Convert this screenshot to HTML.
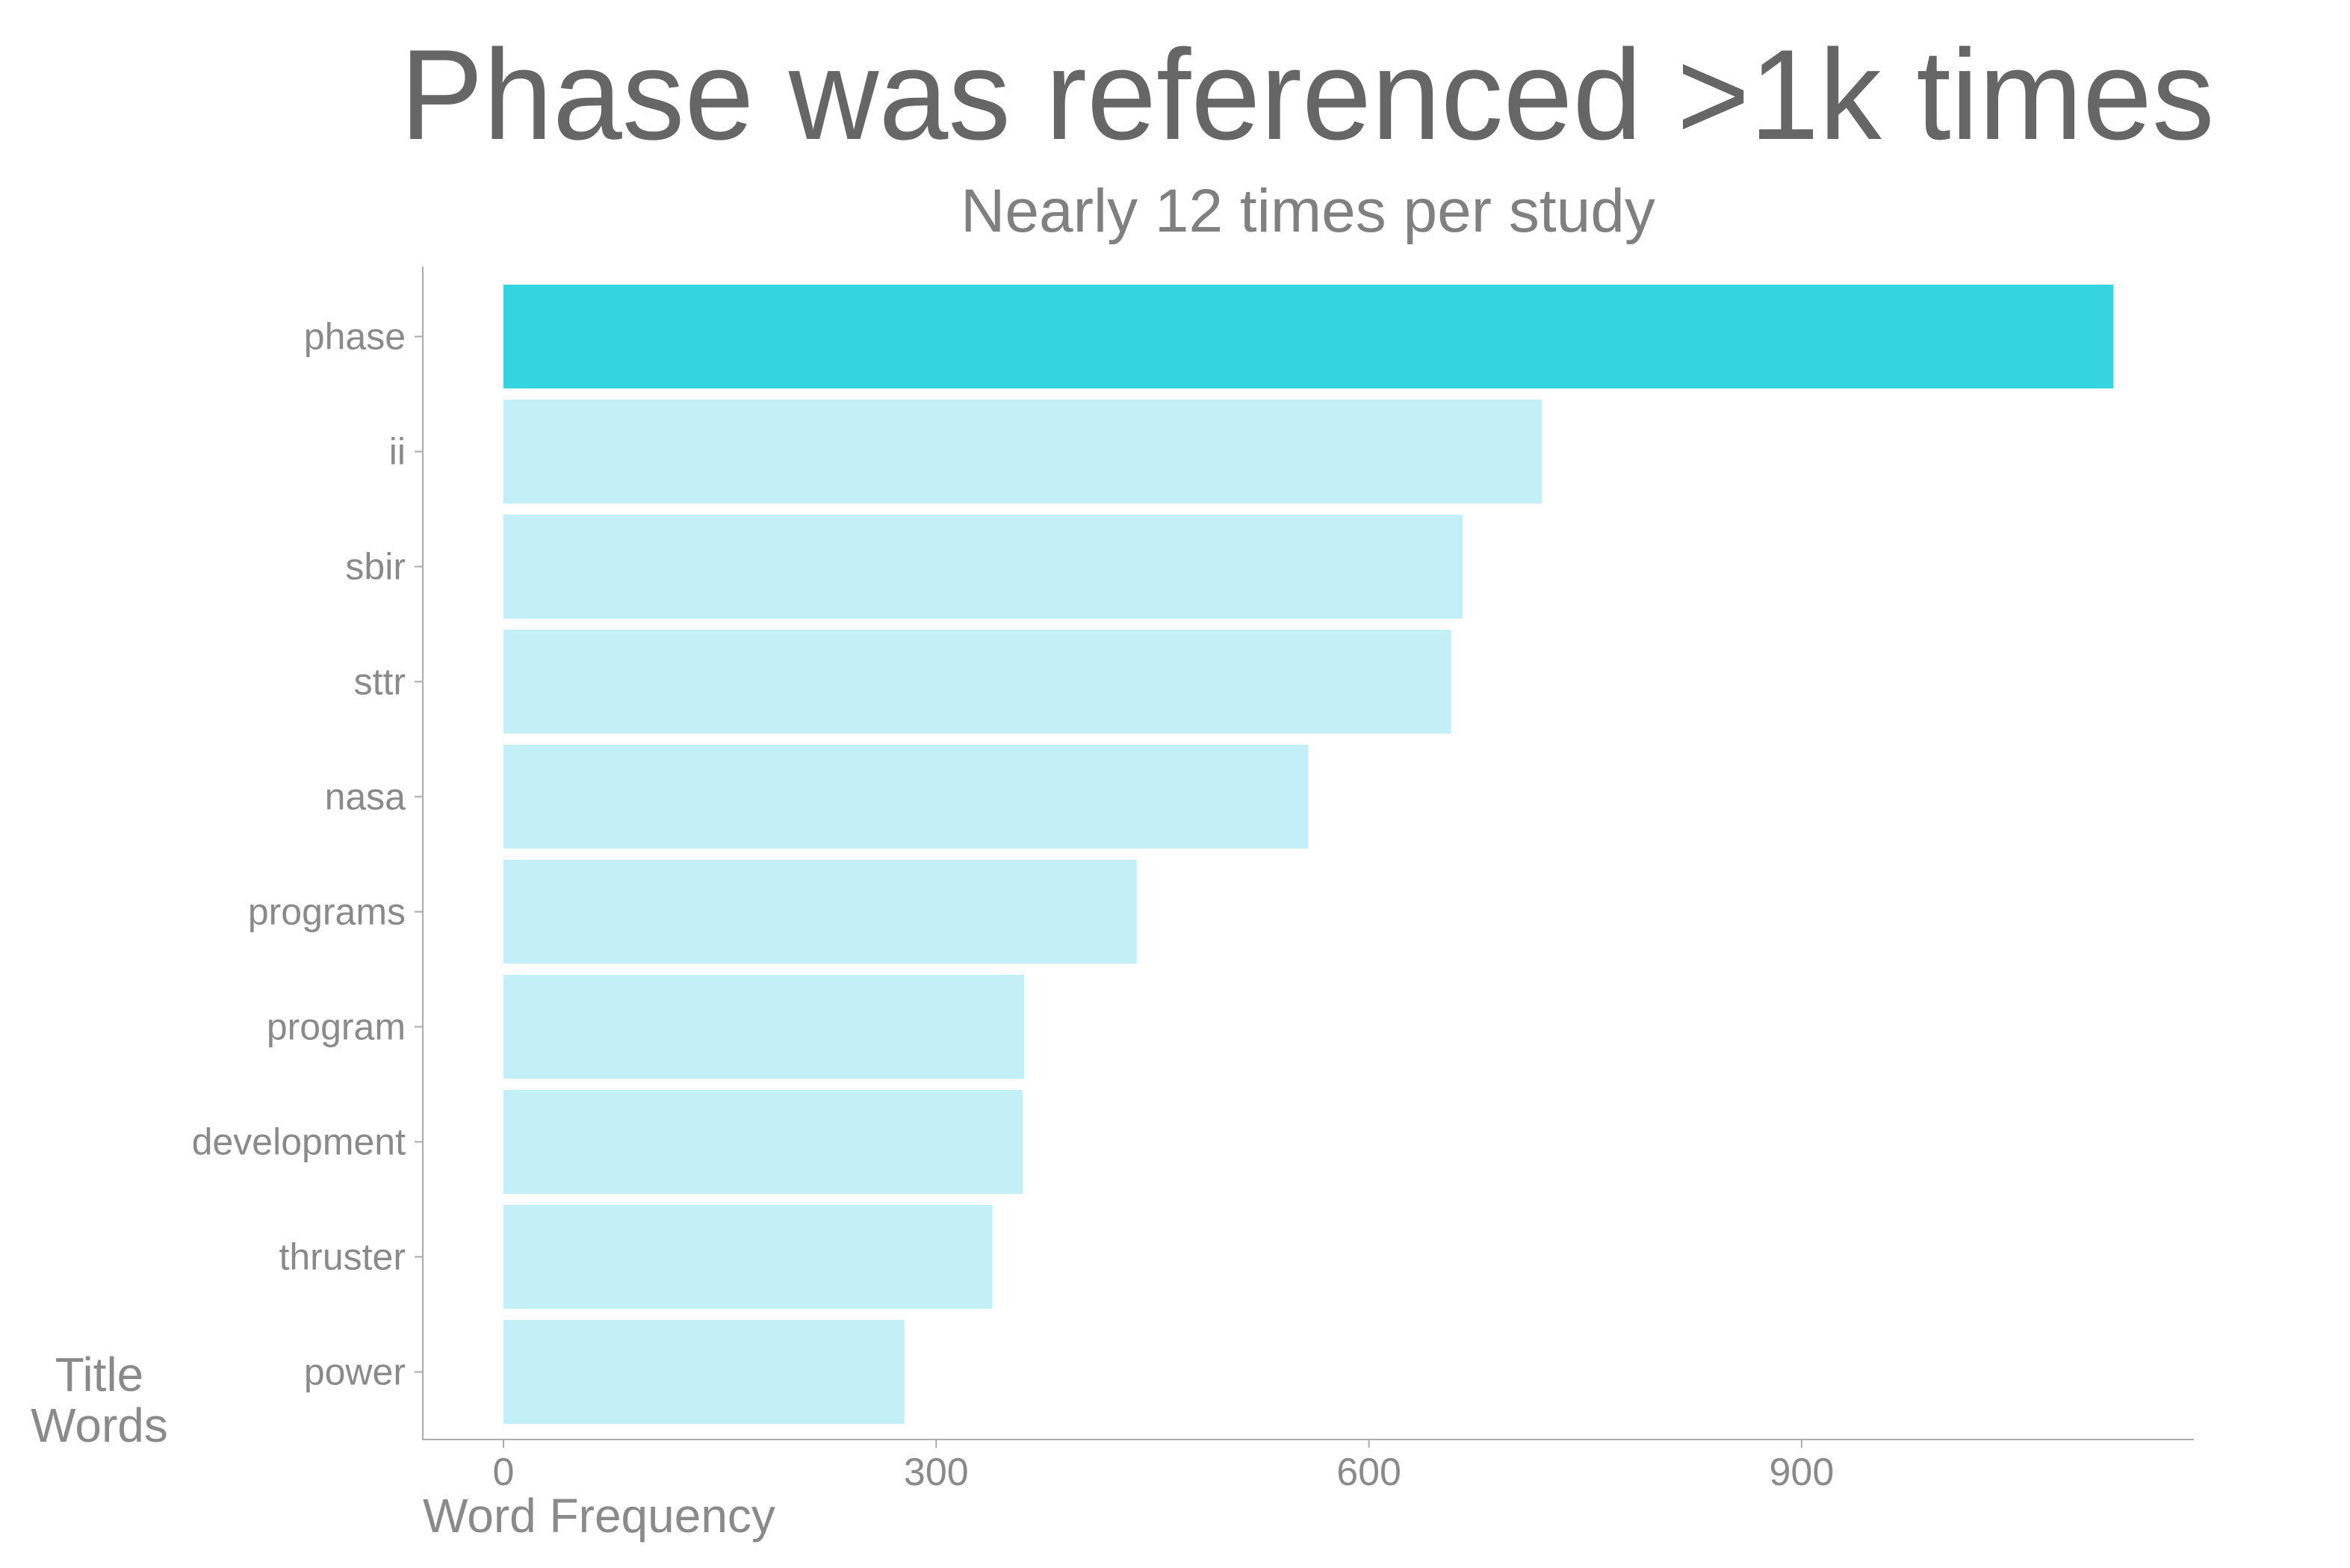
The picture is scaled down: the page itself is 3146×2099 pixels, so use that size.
<!DOCTYPE html>
<html><head><meta charset="utf-8"><style>
html,body{margin:0;padding:0;background:#fff;}
svg{display:block;font-family:"Liberation Sans",Arial,sans-serif;}
</style></head><body>
<svg id="chart" width="3146" height="2099" viewBox="0 0 3146 2099" xmlns="http://www.w3.org/2000/svg">
<text x="1750" y="186" text-anchor="middle" font-size="172" fill="#666666" textLength="2429" lengthAdjust="spacingAndGlyphs">Phase was referenced &gt;1k times</text>
<text x="1751" y="310" text-anchor="middle" font-size="82" fill="#808080">Nearly 12 times per study</text>
<g id="bars"></g>
<g id="axes"></g>
<text x="566" y="2051" font-size="64" fill="#8a8a8a">Word Frequency</text>
<text x="133" y="1862" text-anchor="middle" font-size="64" fill="#8a8a8a">Title</text>
<text x="133" y="1930" text-anchor="middle" font-size="64" fill="#8a8a8a">Words</text>
</svg>
<script>
const categories = ["phase","ii","sbir","sttr","nasa","programs","program","development","thruster","power"];
const values = [1116,720,665,657,558,439,361,360,339,278];
const xTicks = [0,300,600,900];

const NS = "http://www.w3.org/2000/svg";
const x0 = 674, pxPerUnit = 1.931;
const xScale = v => x0 + v * pxPerUnit;
const bandTop = 381, bandStep = 154.0, barH = 139;
const yScale = i => bandTop + i * bandStep;
const axisY = 1927;

const bars = document.getElementById('bars');
const axes = document.getElementById('axes');
function mk(tag, attrs, parent){const e=document.createElementNS(NS,tag);for(const k in attrs)e.setAttribute(k,attrs[k]);parent.appendChild(e);return e;}

categories.forEach((c,i)=>{
  const r = mk('rect',{x:xScale(0),y:yScale(i),width:xScale(values[i])-xScale(0),height:barH,fill:i===0?'#34d5e0':'#c3f0f6'},bars);
  
  
  const cy = yScale(i) + barH/2;
  const t = mk('line',{x1:555,x2:566,y1:cy,y2:cy,stroke:'#aaaaaa','stroke-width':2},axes);
  
  
  const l = mk('text',{x:543,y:cy+17,'text-anchor':'end','font-size':50,fill:'#8a8a8a'},axes);
  l.textContent = c;
  
  
});
const ya = mk('line',{x1:566,x2:566,y1:357,y2:axisY,stroke:'#aaaaaa','stroke-width':2},axes);


const xa = mk('line',{x1:565,x2:2937,y1:axisY,y2:axisY,stroke:'#aaaaaa','stroke-width':2},axes);


xTicks.forEach(v=>{
  const t = mk('line',{x1:xScale(v),x2:xScale(v),y1:axisY,y2:axisY+11,stroke:'#aaaaaa','stroke-width':2},axes);
  
  
  const l = mk('text',{x:xScale(v),y:1988,'text-anchor':'middle','font-size':52,fill:'#8a8a8a'},axes);
  l.textContent = v;
  
  
});
</script>
</body></html>
